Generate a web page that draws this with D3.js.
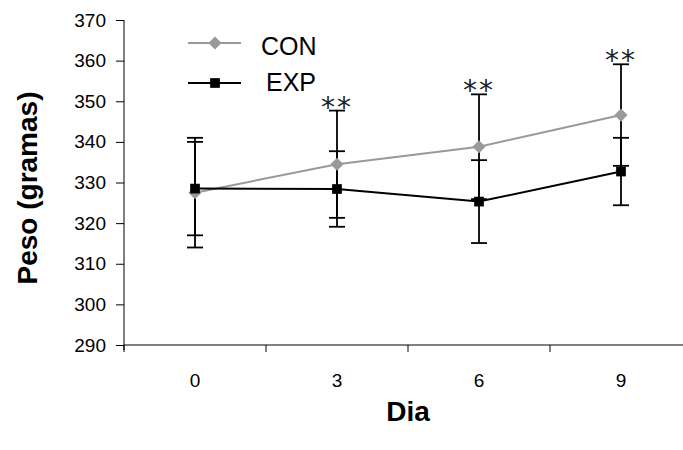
<!DOCTYPE html>
<html lang="en">
<head>
    <meta charset="UTF-8">
    <title>Peso por dia</title>
    <script src="https://cdn.jsdelivr.net/npm/d3@7"></script>
    <style>
        html, body { margin: 0; padding: 0; background: #fff; }
        svg { display: block; font-family: "Liberation Sans", Arial, sans-serif; }
    </style>
</head>
<body>
    <div id="chart"></div>
    <script>
        // data
        const days = ["0", "3", "6", "9"];
        const conMean = [327.5, 334.5, 338.8, 346.6];
        const conErr = [13.5, 13.2, 12.9, 12.5];
        const expMean = [328.5, 328.4, 325.3, 332.7];
        const expErr = [11.5, 9.3, 10.2, 8.3];
        const marks = ["", "**", "**", "**"];
        const yTicks = [290, 300, 310, 320, 330, 340, 350, 360, 370];

        const width = 683, height = 450;
        const svg = d3.select('#chart').append('svg')
            .attr('width', width)
            .attr('height', height);

        const x = d3.scaleBand().domain(days).range([124, 692]).padding(0);
        const y = d3.scaleLinear().domain([290, 370]).range([345, 20]);
        const cx = d => x(d) + x.bandwidth() / 2;

        // y axis
        const yAxis = svg.append('g')
            .attr('transform', 'translate(124,0)')
            .call(d3.axisLeft(y).tickValues(yTicks).tickSize(8).tickPadding(10));
        yAxis.select('.domain').attr('d', 'M0,20V350').attr('stroke', '#000');
        yAxis.selectAll('text').attr('font-size', 19).attr('fill', '#000');

        // x axis
        const xAxis = svg.append('g')
            .attr('transform', 'translate(0,345)')
            .call(d3.axisBottom(x).tickSize(0).tickPadding(29));
        xAxis.select('.domain').attr('d', 'M124,0H692').attr('stroke', '#000');
        xAxis.selectAll('text').attr('font-size', 19).attr('fill', '#000');
        xAxis.selectAll('.bound')
            .data(days.concat(['end']))
            .join('line')
            .attr('class', 'bound')
            .attr('x1', (d, i) => 124 + i * x.step())
            .attr('x2', (d, i) => 124 + i * x.step())
            .attr('y1', 0).attr('y2', 7)
            .attr('stroke', '#000');

        // axis titles
        svg.append('text')
            .attr('transform', 'translate(37,188) rotate(-90)')
            .attr('text-anchor', 'middle')
            .attr('font-size', 28)
            .attr('font-weight', 'bold')
            .text('Peso (gramas)');
        svg.append('text')
            .attr('x', 408).attr('y', 421)
            .attr('text-anchor', 'middle')
            .attr('font-size', 28)
            .attr('font-weight', 'bold')
            .text('Dia');

        const series = [
            { name: 'CON', mean: conMean, err: conErr, color: '#999999', symbol: d3.symbolDiamond2, size: 110 },
            { name: 'EXP', mean: expMean, err: expErr, color: '#000000', symbol: d3.symbolSquare2, size: 120 }
        ];

        // error bars
        series.forEach(s => {
            const g = svg.append('g').attr('stroke', '#000').attr('stroke-width', 1.8);
            days.forEach((d, i) => {
                const lo = y(s.mean[i] - s.err[i]), hi = y(s.mean[i] + s.err[i]);
                g.append('line').attr('x1', cx(d)).attr('x2', cx(d)).attr('y1', hi).attr('y2', lo);
                g.append('line').attr('x1', cx(d) - 8).attr('x2', cx(d) + 8).attr('y1', hi).attr('y2', hi);
                g.append('line').attr('x1', cx(d) - 8).attr('x2', cx(d) + 8).attr('y1', lo).attr('y2', lo);
            });
        });

        // lines
        const line = d3.line().x((v, i) => cx(days[i])).y(v => y(v));
        series.forEach(s => {
            svg.append('path')
                .datum(s.mean)
                .attr('d', line)
                .attr('fill', 'none')
                .attr('stroke', s.color)
                .attr('stroke-width', 2);
        });

        // markers
        series.forEach(s => {
            svg.append('g').selectAll('path')
                .data(s.mean)
                .join('path')
                .attr('transform', (v, i) => `translate(${cx(days[i])},${y(v)})`)
                .attr('d', d3.symbol().type(s.symbol).size(s.size))
                .attr('fill', s.color)
                .attr('stroke', 'none');
        });

        // significance marks above CON bars
        svg.append('g').selectAll('text')
            .data(marks)
            .join('text')
            .attr('x', (m, i) => cx(days[i]))
            .attr('y', (m, i) => y(conMean[i] + conErr[i]) + 6)
            .attr('text-anchor', 'middle')
            .attr('font-family', '"DejaVu Sans", sans-serif')
            .attr('font-size', 28)
            .attr('letter-spacing', 2)
            .attr('fill', '#222')
            .text(m => m);

        // legend
        const legend = svg.append('g');
        const legendY = [43, 83];
        series.forEach((s, i) => {
            legend.append('line')
                .attr('x1', 188).attr('x2', 241)
                .attr('y1', legendY[i]).attr('y2', legendY[i])
                .attr('stroke', s.color).attr('stroke-width', 2);
            legend.append('path')
                .attr('transform', `translate(215,${legendY[i]})`)
                .attr('d', d3.symbol().type(s.symbol).size(s.size))
                .attr('fill', s.color);
            legend.append('text')
                .attr('x', i === 0 ? 261 : 266)
                .attr('y', legendY[i] + (i === 0 ? 12 : 8))
                .attr('font-size', 25)
                .text(s.name);
        });
    </script>
</body>
</html>
